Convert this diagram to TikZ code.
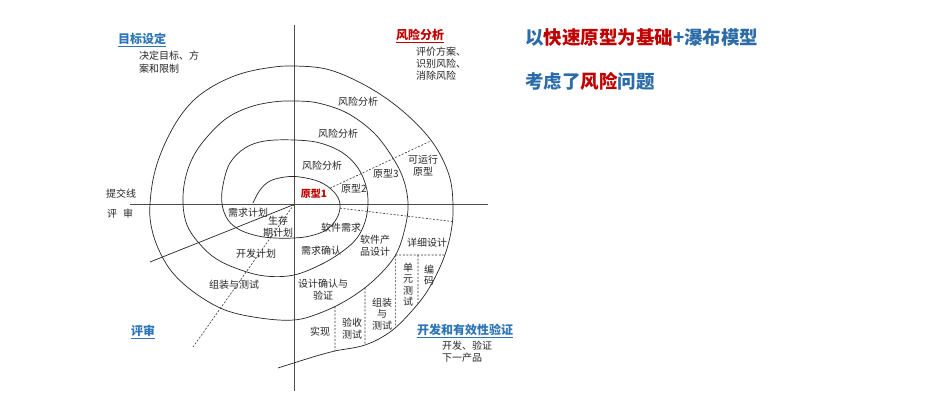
\documentclass[tikz,border=0pt]{standalone}
\usepackage{fontspec}
\setmainfont{Noto Sans CJK SC}
\usetikzlibrary{intersections,calc}
\definecolor{secblue}{HTML}{2E75B6}
\definecolor{headblue}{HTML}{2B6CA8}
\definecolor{hred}{HTML}{C00000}
\begin{document}
\begin{tikzpicture}[x=1pt,y=-1pt,
  lbl/.style={font=\fontsize{10}{12}\selectfont, inner sep=0pt, text=black!85, align=center},
  vlbl/.style={font=\fontsize{10}{11.5}\selectfont, inner sep=0pt, text=black!85, align=center},
  sec/.style={font=\fontsize{12}{14}\selectfont\bfseries, inner sep=0pt, text=secblue},
  head/.style={font=\fontsize{18.5}{20}\selectfont\bfseries, inner sep=0pt, text=headblue, anchor=west},
  axisline/.style={draw=black!70, line width=0.8pt},
  spiralline/.style={draw=black!85, line width=0.7pt},
  dashline/.style={draw=black!80, line width=0.6pt, dash pattern=on 2pt off 1.6pt}]
\fill[white] (0,0) rectangle (936,419);
\useasboundingbox (0,0) rectangle (936,419);

% axes
\coordinate (ctr) at (294,204.5);
\coordinate (axL) at (130,204.5);
\coordinate (axR) at (488,204.5);
\coordinate (axT) at (294,25);
\coordinate (axB) at (294,391);
\draw[axisline] (axL) -- (axR);
\draw[axisline] (axT) -- (axB);

% spiral
\draw[spiralline, name path=spiral] plot[smooth, tension=0.6] coordinates {
(253,203) (260,190) (270,181) (285,177) (300,177) (320,182) (334,192) (340,204)
(337,218) (326,230) (310,236) (294,238) (275,238) (258,236) (240,230) (228,220)
(222,204) (223,185) (230,163) (245,148) (265,141) (294,140) (320,143) (343,153)
(358,168) (366,186) (368,204) (365,222) (357,238) (343,251) (322,264) (294,275)
(265,276) (238,269) (215,258) (198,242) (187,225) (183,204) (185,180) (193,157)
(207,137) (227,118) (250,107) (273,102) (294,101) (318,103) (347,113) (373,132)
(391,155) (403,178) (408,203) (405,228) (395,256) (373,281) (347,300) (320,313)
(294,320) (260,318) (225,310) (195,293) (172,272) (158,248) (151,225) (150,204)
(154,175) (163,148) (177,121) (194,100) (215,85) (240,74) (267,68) (294,66)
(330,70) (370,88) (405,113) (433,143) (449,175) (453,205) (451,232)
(443,260) (428,290) (410,313) (390,332) (365,345) (335,351) (313,357) (278,368)};

% solid line and dashed line from the centre
\coordinate (sl) at (150,262);
\draw[spiralline] (sl) -- (ctr);
\coordinate (dl) at (193,347);
\draw[dashline] (ctr) -- (dl);

% upper right dashed line
\path[name path=ur] (322,192) -- (452,131);
\draw[dashline, name intersections={of=spiral and ur, sort by=ur, name=u, total=\t}] (u-1) -- (u-\t);
% right dashed line
\path[name path=rd] (330,207) -- (465,223);
\draw[dashline, name intersections={of=spiral and rd, sort by=rd, name=r, total=\t}] (r-1) -- (r-\t);

% lower right boxes
\path[name path=h1] (385,255) -- (405,255);
\path[name intersections={of=spiral and h1, by={hL}}];
\path[name path=h2] (438,255) -- (460,255);
\path[name intersections={of=spiral and h2, by={hR}}];
\draw[dashline] (hL) -- (hR);
\path[name path=v3] ($(hL)+(0,50)$) -- ($(hL)+(0,95)$);
\path[name intersections={of=spiral and v3, by={v3b}}];
\draw[dashline] (hL) -- (v3b);
\coordinate (v4t) at (418,255);
\path[name path=v4] (418,280) -- (418,325);
\path[name intersections={of=spiral and v4, by={v4b}}];
\draw[dashline] (v4t) -- (v4b);
\path[name path=v5a] (365,275) -- (365,300);
\path[name intersections={of=spiral and v5a, by={v5t}}];
\path[name path=v5b] (365,335) -- (365,360);
\path[name intersections={of=spiral and v5b, by={v5b}}];
\draw[dashline] (v5t) -- (v5b);
\path[name path=v6a] (335,295) -- (335,325);
\path[name intersections={of=spiral and v6a, by={v6t}}];
\path[name path=v6b] (335,338) -- (335,365);
\path[name intersections={of=spiral and v6b, by={v6b}}];
\draw[dashline] (v6t) -- (v6b);

% section titles
\node[sec] (goal) at (142,40) {\underline{目标设定}};
\node[lbl, anchor=north west, align=left, font=\fontsize{10}{13}\selectfont] (goaltxt) at (139,51) {决定目标、方\\案和限制};
\node[sec, text=hred] (risk) at (420,36) {\underline{风险分析}};
\node[lbl, anchor=north west, align=left] (risktxt) at (416,47) {评价方案、\\识别风险、\\消除风险};
\node[sec] (dev) at (465,331) {\underline{开发和有效性验证}};
\node[lbl, anchor=north west, align=left] (devtxt) at (442,340.5) {开发、验证\\下一产品};
\node[sec] (review) at (143,332) {\underline{评审}};

% headline
\node[head] (h1) at (525,38) {以\textcolor{hred}{快速原型为基础}+瀑布模型};
\node[head] (h2) at (525,81) {考虑了\textcolor{hred}{风险}问题};

% labels in the spiral
\node[lbl] (ra1) at (358,101.5) {风险分析};
\node[lbl] (ra2) at (338,134) {风险分析};
\node[lbl] (ra3) at (322,166) {风险分析};
\node[lbl] (op) at (423,166) {可运行\\原型};
\node[lbl] (p3) at (386,173.5) {原型3};
\node[lbl] (p2) at (354,189) {原型2};
\node[lbl, text=hred, font=\fontsize{10}{12}\selectfont\bfseries] (p1) at (314,194) {原型1};
\node[lbl] (swr) at (341,228) {软件需求};
\node[lbl] (swd) at (375,245.5) {软件产\\品设计};
\node[lbl] (dd) at (427,242.5) {详细设计};
\node[lbl] (rc) at (321,251) {需求确认};
\node[lbl] (rp) at (248,212.5) {需求计划};
\node[lbl] (lp) at (278,227) {生存\\期计划};
\node[lbl] (dp) at (256,254) {开发计划};
\node[lbl] (it) at (234,285) {组装与测试};
\node[lbl] (dv) at (323,290) {设计确认与\\验证};
\node[lbl] (impl) at (320,332) {实现};
\node[lbl] (at) at (352,328.5) {验收\\测试};
\node[vlbl] (ait) at (382,314) {组装\\与\\测试};
\node[vlbl] (ut) at (408,284.5) {单\\元\\测\\试};
\node[vlbl] (code) at (429,275) {编\\码};
\node[lbl] (sub) at (121,194) {提交线};
\node[lbl] (rev2) at (120,214) {评\hspace{6pt}审};
\end{tikzpicture}
\end{document}
